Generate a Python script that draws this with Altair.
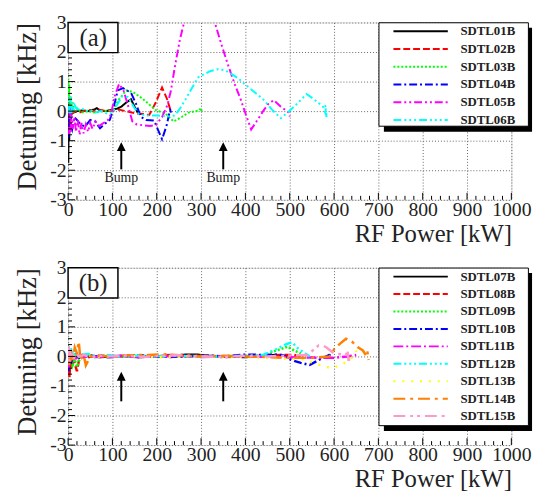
import altair as alt
import pandas as pd

# ---------------- data ----------------
names_a = ["SDTL01B", "SDTL02B", "SDTL03B", "SDTL04B", "SDTL05B", "SDTL06B"]
colors_a = ["#000000", "#ff0000", "#00ff00", "#0000ff", "#ff00ff", "#00ffff"]
dashes_a = [[1, 0], [7, 3], [2, 2], [8, 3, 2, 3], [8, 3, 2, 3, 2, 3], [8, 3, 2, 3, 2, 3, 2, 3]]
widths_a = [2, 2, 2, 2, 2, 2]

x01 = [0.5, 1.5, 2.5, 4, 6, 8, 12, 20, 30, 45, 58, 65, 72, 85, 100, 110, 120, 132, 142, 150, 157]
y01 = [-1.75, 0.3, -1.0, 0.2, -0.3, 0.1, -0.05, 0.0, 0.02, 0.0, 0.05, 0.1, 0.02, 0.0, 0.05, 0.08, 0.15, 0.3, 0.4, 0.15, -0.05]
x02 = [0.5, 1.5, 2.5, 4, 8, 15, 25, 35, 45, 55, 70, 85, 100, 115, 130, 153, 170, 183, 198, 212, 223, 231, 233]
y02 = [-0.7, 0.1, -0.5, 0.0, -0.1, 0.0, -0.05, 0.0, 0.05, 0.0, 0.05, 0.0, 0.02, 0.05, 0.0, -0.08, -0.1, -0.13, 0.3, 0.8, 0.42, 0.03, 0.0]
x03 = [0.5, 1.5, 2.5, 4, 6, 8, 10, 14, 20, 30, 45, 60, 80, 100, 115, 131, 146, 168, 185, 198, 220, 238, 257, 272, 295, 300, 302]
y03 = [1.1, 0.2, 0.9, 0.0, 0.5, 0.1, 0.3, 0.0, 0.1, -0.05, 0.0, -0.05, 0.0, 0.03, 0.4, 0.7, 0.65, 0.42, 0.2, 0.03, -0.08, -0.35, -0.19, -0.05, 0.02, 0.1, -0.05]
x04 = [0.5, 1.5, 2.5, 4, 6, 9, 14, 20, 28, 38, 50, 61, 72, 83, 94, 101, 112, 124, 142, 153, 164, 176, 194, 212, 222, 231, 232]
y04 = [-0.9, -0.2, -0.7, 0.1, -0.5, -0.63, -0.2, -0.3, -0.45, -0.52, -0.3, -0.35, -0.58, -0.43, -0.3, 0.03, 0.7, 0.78, 0.62, 0.26, -0.19, -0.3, -0.32, -0.95, -0.5, 0.1, -0.05]
x05 = [2, 4, 6, 8, 10, 14, 18, 22, 26, 30, 35, 40, 45, 50, 55, 62, 70, 80, 90, 97, 105, 115, 125, 135, 145, 155, 170, 185, 198, 212, 224, 232, 242, 252, 260, 270, 285, 300, 315, 331, 345, 360, 375, 390, 403, 413, 425, 440, 452, 464, 480, 498, 500]
y05 = [-0.8, 0.3, -0.7, 0.1, -0.6, -0.2, -0.7, -0.3, -0.8, -0.4, -0.75, -0.45, -0.7, -0.4, -0.6, -0.35, -0.5, -0.4, -0.3, -0.1, 0.5, 0.92, 0.7, 0.2, -0.35, -0.45, -0.48, -0.5, -0.47, -0.2, 0.2, 0.7, 1.6, 2.4, 2.9, 3.3, 3.7, 3.85, 3.6, 3.0, 2.3, 1.6, 0.95, 0.37, -0.2, -0.62, -0.35, 0.0, 0.25, 0.37, 0.15, -0.05, -0.18]
x06 = [1, 3, 5, 7, 9, 12, 15, 20, 30, 40, 50, 60, 75, 90, 100, 110, 122, 135, 150, 160, 180, 200, 225, 240, 250, 264, 280, 294, 320, 338, 355, 368, 385, 398, 420, 440, 460, 480, 501, 520, 538, 555, 575, 583, 580, 583]
y06 = [0.2, -0.1, 0.5, -0.2, 0.3, 0.0, 0.2, 0.05, 0.1, 0.0, 0.05, -0.05, 0.0, -0.1, -0.05, 0.2, 0.5, 0.48, 0.1, -0.1, -0.15, -0.15, -0.18, -0.15, 0.03, 0.37, 0.8, 1.15, 1.35, 1.42, 1.38, 1.26, 1.1, 0.92, 0.65, 0.4, 0.05, -0.24, 0.03, 0.3, 0.58, 0.4, 0.15, -0.15, 0.2, -0.2]
xs_a = [x01, x02, x03, x04, x05, x06]
ys_a = [y01, y02, y03, y04, y05, y06]

names_b = ["SDTL07B", "SDTL08B", "SDTL09B", "SDTL10B", "SDTL11B", "SDTL12B", "SDTL13B", "SDTL14B", "SDTL15B"]
colors_b = ["#000000", "#ff0000", "#00ff00", "#0000ff", "#ff00ff", "#00ffff", "#ffff00", "#ff7f00", "#ff99cc"]
dashes_b = [[1, 0], [7, 3], [2, 2], [8, 3, 2, 3], [10, 3, 2, 3], [8, 3, 2, 3, 2, 3, 2, 3], [2, 7], [12, 5, 3, 5], [12, 5, 3, 4, 3, 5]]
widths_b = [2.5, 2.5, 2.5, 2.5, 2.5, 2.5, 2.5, 2.5, 2.5]

x07 = [1, 3, 5, 8, 12, 18, 25, 35, 50, 70, 100, 130, 160, 200, 240, 270, 290, 310, 350, 400, 440, 470, 480]
y07 = [-0.3, 0.2, -0.4, 0.1, -0.1, 0.05, -0.05, 0.0, 0.03, -0.02, 0.0, 0.02, -0.02, 0.0, 0.03, 0.06, 0.06, 0.02, 0.0, -0.02, 0.02, 0.05, 0.0]
x08 = [1, 2, 3, 5, 8, 12, 16, 20, 25, 32, 40, 55, 75, 100, 130, 170, 200, 230, 260, 300, 350, 400, 450, 490, 510, 525]
y08 = [-0.65, 0.1, -0.7, -0.2, -0.4, 0.0, -0.3, -0.5, -0.1, 0.05, -0.05, 0.0, 0.03, -0.02, 0.02, 0.04, 0.0, 0.05, 0.0, 0.02, -0.02, 0.0, 0.03, 0.05, 0.05, 0.0]
x09 = [1, 3, 6, 10, 15, 20, 28, 40, 60, 90, 120, 160, 200, 250, 300, 350, 400, 440, 460, 480, 495, 510, 525]
y09 = [0.3, -0.2, 0.1, -0.3, -0.1, -0.35, 0.0, 0.05, -0.03, 0.02, 0.0, 0.03, -0.02, 0.0, 0.02, -0.01, 0.0, 0.0, 0.15, 0.25, 0.33, 0.2, 0.1]
x10 = [1, 3, 6, 10, 15, 22, 30, 45, 65, 90, 120, 150, 190, 230, 270, 310, 350, 400, 440, 470, 485, 505, 525, 545, 572, 590, 593]
y10 = [-0.5, 0.1, -0.3, 0.05, -0.1, 0.0, -0.05, 0.02, 0.0, -0.03, 0.0, 0.02, 0.0, -0.02, 0.01, 0.03, 0.0, 0.06, 0.05, 0.06, 0.04, -0.13, -0.22, -0.29, -0.07, 0.05, 0.2]
x11 = [1, 3, 6, 10, 15, 22, 30, 45, 65, 90, 120, 160, 200, 250, 300, 350, 400, 450, 500, 550, 600, 630, 650]
y11 = [-0.4, 0.2, -0.2, 0.1, -0.15, 0.05, -0.05, 0.03, -0.02, 0.0, 0.02, -0.03, 0.0, 0.02, -0.02, 0.0, 0.01, -0.02, -0.03, -0.04, -0.05, 0.0, 0.05]
x12 = [1, 3, 6, 10, 15, 22, 30, 45, 65, 90, 120, 160, 200, 250, 300, 350, 400, 440, 470, 490, 505, 520, 535, 545]
y12 = [0.35, -0.1, 0.3, 0.0, 0.15, -0.05, 0.05, 0.08, 0.0, 0.05, -0.02, 0.03, 0.0, 0.03, -0.02, 0.0, 0.02, 0.05, 0.25, 0.4, 0.48, 0.25, 0.1, 0.0]
x13 = [1, 3, 6, 10, 15, 22, 30, 45, 65, 90, 120, 160, 200, 250, 300, 350, 400, 450, 500, 530, 560, 580, 598, 610, 627, 648, 650]
y13 = [0.2, -0.3, 0.1, -0.1, 0.05, 0.0, -0.05, 0.03, 0.0, -0.02, 0.02, 0.0, -0.03, 0.0, 0.02, 0.0, -0.02, -0.05, -0.08, -0.1, -0.25, -0.35, -0.4, -0.3, -0.2, 0.05, 0.2]
x14 = [1, 3, 6, 10, 15, 20, 24, 28, 35, 40, 50, 70, 100, 140, 180, 220, 260, 300, 350, 400, 450, 500, 550, 590, 601, 615, 627, 642, 653, 665, 672, 675, 678]
y14 = [0.1, -0.3, 0.2, -0.2, 0.3, 0.1, 0.5, -0.1, 0.05, -0.3, 0.0, 0.03, -0.02, 0.04, 0.05, 0.07, 0.03, 0.0, 0.02, 0.0, -0.02, -0.05, -0.05, 0.0, 0.26, 0.45, 0.6, 0.48, 0.32, 0.2, 0.04, 0.18, -0.12]
x15 = [1, 2, 3, 5, 8, 12, 18, 25, 35, 50, 70, 100, 130, 170, 210, 250, 300, 350, 400, 450, 500, 540, 565, 575, 583, 600, 627, 630, 633, 636]
y15 = [0.35, -0.2, 0.3, 0.0, 0.2, -0.1, 0.1, 0.0, 0.05, -0.03, 0.02, 0.0, 0.03, -0.02, 0.02, 0.04, 0.0, -0.02, 0.02, 0.0, 0.03, 0.05, 0.37, 0.37, 0.3, 0.1, 0.05, 0.22, -0.15, 0.05]
xs_b = [x07, x08, x09, x10, x11, x12, x13, x14, x15]
ys_b = [y07, y08, y09, y10, y11, y12, y13, y14, y15]

# annotation arrows (x position, shaft bottom, tip) and labels
arrow_x = [120, 350]
arrow_a_bottom, arrow_a_tip = -1.97, -1.05
arrow_b_bottom, arrow_b_tip = -1.52, -0.52
bump_labels = ["Bump", "Bump"]
bump_y = -2.28

x_ticks_major = list(range(0, 1001, 100))
x_ticks_minor = [v for v in range(0, 1001, 20) if v % 100 != 0]
y_ticks_major = [-3, -2, -1, 0, 1, 2, 3]
y_ticks_minor = [round(-3 + 0.2 * i, 1) for i in range(31) if i % 5 != 0]

W, H = 450, 180
FONT = "Liberation Serif"
TXT = "#222222"

X_SCALE = alt.Scale(domain=[0, 1000], nice=False, zero=False)
Y_SCALE = alt.Scale(domain=[-3, 3], nice=False, zero=False)

XAXIS = alt.Axis(values=x_ticks_major, grid=True, gridDash=[1, 2], gridColor="#666666",
                 gridWidth=1, ticks=False, domain=False, labelFont=FONT, labelFontSize=20,
                 labelColor=TXT, labelPadding=0, labelFlush=False, labelOverlap=False,
                 labelExpr="'' + datum.value", labelBaseline="top",
                 title="RF Power [kW]", titleFont=FONT, titleFontSize=25,
                 titleFontWeight="normal", titleColor=TXT, titleAnchor="end", titlePadding=2)
YAXIS = alt.Axis(values=y_ticks_major, grid=True, gridDash=[1, 2], gridColor="#666666",
                 gridWidth=1, ticks=False, domain=False, labelFont=FONT, labelFontSize=20,
                 labelColor=TXT, labelPadding=2, labelOverlap=False, labelFlush=False,
                 labelExpr="'' + datum.value",
                 title="Detuning [kHz]", titleFont=FONT, titleFontSize=27,
                 titleFontWeight="normal", titleColor=TXT, titleAnchor="end", titlePadding=8)


def X(field="x"):
    return alt.X(f"{field}:Q", scale=X_SCALE, axis=XAXIS, title="RF Power [kW]")


def Y(field="y"):
    return alt.Y(f"{field}:Q", scale=Y_SCALE, axis=YAXIS, title="Detuning [kHz]")


def panel(tag, names, colors, dashes, widths, xs, ys, a_bottom, a_tip, with_bump, row_gap, legend_h):
    rows = []
    for n, xv, yv in zip(names, xs, ys):
        for i, (a, b) in enumerate(zip(xv, yv)):
            rows.append({"name": n, "x": a, "y": b, "i": i})
    df = pd.DataFrame(rows)

    lines = alt.Chart(df).mark_line(clip=True).encode(
        x=X(), y=Y(),
        color=alt.Color("name:N", scale=alt.Scale(domain=names, range=colors), legend=None),
        strokeDash=alt.StrokeDash("name:N", scale=alt.Scale(domain=names, range=dashes), legend=None),
        strokeWidth=alt.StrokeWidth("name:N", scale=alt.Scale(domain=names, range=widths), legend=None),
        order="i:Q",
    )

    layers = [lines]

    # inner ticks
    ytm = pd.DataFrame({"y": y_ticks_major})
    ytn = pd.DataFrame({"y": y_ticks_minor})
    xtm = pd.DataFrame({"x": x_ticks_major})
    xtn = pd.DataFrame({"x": x_ticks_minor})
    layers.append(alt.Chart(ytm).mark_rule(color="black", strokeWidth=1).encode(
        y=Y(), x=alt.value(0), x2=alt.value(7)))
    layers.append(alt.Chart(ytn).mark_rule(color="black", strokeWidth=1).encode(
        y=Y(), x=alt.value(0), x2=alt.value(4)))
    layers.append(alt.Chart(xtm).mark_rule(color="black", strokeWidth=1).encode(
        x=X(), y=alt.value(H), y2=alt.value(H - 7)))
    layers.append(alt.Chart(xtn).mark_rule(color="black", strokeWidth=1).encode(
        x=X(), y=alt.value(H), y2=alt.value(H - 4)))

    # arrows
    adf = pd.DataFrame({"x": arrow_x, "y": [a_bottom] * 2, "y2": [a_tip - 0.25] * 2})
    tdf_ = pd.DataFrame({"x": arrow_x, "y": [a_tip] * 2})
    layers.append(alt.Chart(adf).mark_rule(color="black", strokeWidth=2).encode(
        x=X(), y=Y(), y2="y2:Q"))
    layers.append(alt.Chart(tdf_).mark_point(shape="M0,0L-1,2L1,2Z", filled=True, color="black",
                                             opacity=1, size=81, strokeWidth=0).encode(
        x=X(), y=Y()))
    if with_bump:
        bdf = pd.DataFrame({"x": arrow_x, "y": [bump_y] * 2, "t": bump_labels})
        layers.append(alt.Chart(bdf).mark_text(font=FONT, fontSize=14, color=TXT).encode(
            x=X(), y=Y(), text="t:N"))

    # panel tag box
    tdf = pd.DataFrame({"t": [tag]})
    layers.append(alt.Chart(tdf).mark_rect(fill="white", stroke="black", strokeWidth=1.5).encode(
        x=alt.value(0), x2=alt.value(50.6), y=alt.value(0), y2=alt.value(30.6)))
    layers.append(alt.Chart(tdf).mark_text(font=FONT, fontSize=25, color=TXT, baseline="middle").encode(
        x=alt.value(25.5), y=alt.value(16), text="t:N"))

    # legend box with shadow
    layers.append(alt.Chart(tdf).mark_rect(fill="black", clip=False).encode(
        x=alt.value(320.6), x2=alt.value(471), y=alt.value(5.3), y2=alt.value(legend_h + 5.5)))
    layers.append(alt.Chart(tdf).mark_rect(fill="white", stroke="black", strokeWidth=1, clip=False).encode(
        x=alt.value(315.6), x2=alt.value(467.3), y=alt.value(0.3), y2=alt.value(legend_h)))
    for k, (n, c, d, w) in enumerate(zip(names, colors, dashes, widths)):
        ldf = pd.DataFrame({"name": [n]})
        yy = 9 + row_gap * k
        layers.append(alt.Chart(ldf).mark_rule(color=c, strokeDash=d, strokeWidth=2, clip=False).encode(
            x=alt.value(330.3), x2=alt.value(385.5), y=alt.value(yy)))
        layers.append(alt.Chart(ldf).mark_text(font=FONT, fontSize=13, fontWeight="bold", color=TXT,
                                               align="left", baseline="middle", clip=False).encode(
            x=alt.value(398.3), y=alt.value(yy), text="name:N"))

    return alt.layer(*layers).properties(width=W, height=H)


pa = panel("(a)", names_a, colors_a, dashes_a, widths_a, xs_a, ys_a,
           arrow_a_bottom, arrow_a_tip, True, 18.0, 105.3)
pb = panel("(b)", names_b, colors_b, dashes_b, widths_b, xs_b, ys_b,
           arrow_b_bottom, arrow_b_tip, False, 17.7, 160.3)

chart = alt.vconcat(pa, pb, spacing=10).resolve_scale(
    color="independent", strokeDash="independent", strokeWidth="independent"
).properties(
    padding={"left": 5, "top": 0, "right": 2, "bottom": 0}
).configure_view(stroke="black", strokeWidth=2).configure(background="white")

chart.save("out.html", embed_options={"renderer": "svg", "actions": False})
